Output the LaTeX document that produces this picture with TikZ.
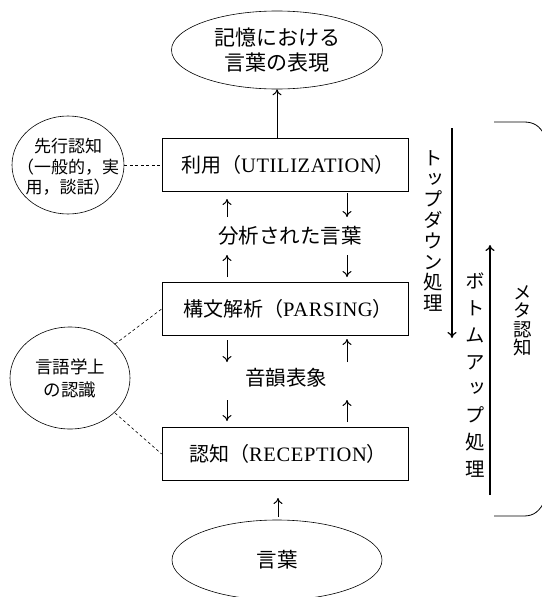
\documentclass[tikz,border=0pt]{standalone}
\usepackage{fontspec}
\setmainfont{Liberation Serif}[LetterSpace=3]
\newfontfamily\jp{Noto Sans CJK JP}
\newfontfamily\jpv[RawFeature=+vert]{Noto Sans CJK JP}
\usetikzlibrary{shapes.geometric,arrows.meta}
\newcommand\jpb[1]{{\jp\fontsize{20}{22}\selectfont #1}}
\begin{document}
\begin{tikzpicture}[x=1pt,y=-1pt,
  box/.style={draw,line width=0.7pt,minimum width=246pt,minimum height=53pt,inner sep=0pt},
  btext/.style={inner sep=0pt,font=\fontsize{20.5}{22}\selectfont},
  oval/.style={draw,ellipse,line width=0.6pt,inner sep=0pt},
  arr/.style={-{To[length=6pt,width=9pt]},line width=1pt},
  dsh/.style={dash pattern=on 3pt off 2.5pt,line width=0.6pt},
  lbl/.style={inner sep=0pt,font=\jp\fontsize{20.5}{22}\selectfont},
  ctext/.style={inner sep=0pt,align=center},
  vtext/.style={inner sep=0pt,align=center}
]
\useasboundingbox (0,0) rectangle (541,597);

% ellipses
\node[oval,minimum width=211pt,minimum height=78pt] (mem) at (277,50) {};
\node[ctext,font=\jp\fontsize{21}{25}\selectfont] (memt) at (mem) {記憶における\\言葉の表現};
\node[oval,minimum width=210pt,minimum height=80pt] (word) at (277,560) {};
\node[lbl] (wordt) at (word) {言葉};

% boxes
\node[box] (util) at (285,165) {};
\node[btext] (utilt) at (288,165) {\jpb{利用（}UTILIZATION\jpb{）}};
\node[box] (parse) at (285,309) {};
\node[btext] (parset) at (288,309) {\jpb{構文解析（}PARSING\jpb{）}};
\node[box] (rec) at (285,454) {};
\node[btext] (rect) at (288,454) {\jpb{認知（}RECEPTION\jpb{）}};

% middle labels
\node[lbl] (ana) at (290,236) {分析された言葉};
\node[lbl] (pho) at (286,378) {音韻表象};

% side circles
\node[oval,minimum width=112pt,minimum height=98pt] (c1) at (68,165) {};
\node[ctext,font=\jp\fontsize{17}{20.5}\selectfont] (c1t) at (68,167) {先行認知\\（一般的，実\\用，談話）};
\node[oval,minimum width=120pt,minimum height=102pt] (c2) at (70,378) {};
\node[ctext,font=\jp\fontsize{17.5}{23}\selectfont] (c2t) at (c2) {言語学上\\の認識};

% vertical labels
\node[vtext,font=\jpv\fontsize{19.5}{20.7}\selectfont] (tdt) at (433,231) {ト\\ッ\\プ\\ダ\\ウ\\ン\\処\\理};
\node[vtext,font=\jpv\fontsize{19.5}{26.8}\selectfont] (but) at (475,375) {ボ\\ト\\ム\\ア\\ッ\\プ\\処\\理};
\node[vtext,font=\jpv\fontsize{18.5}{18.5}\selectfont] (meta) at (523,321) {メ\\タ\\認\\知};

% main vertical arrows
\draw[arr] (util.north -| mem.south) -- (mem.south);
\coordinate (wtop) at (278,517);
\coordinate (rtip) at (278,498);
\draw[arr] (wtop) -- (rtip);

% small arrows
\draw[arr] (227,217) -- (227,199);
\draw[arr] (347,193) -- (347,217);
\draw[arr] (227,277) -- (227,255);
\draw[arr] (347,255) -- (347,277);
\draw[arr] (227,340) -- (227,362);
\draw[arr] (347,362) -- (347,339);
\draw[arr] (227,400) -- (227,421);
\draw[arr] (347,422) -- (347,400);

% dashed links
\draw[dsh] (c1.east) -- (util.west);
\draw[dsh] (c2) ++(45,-34) -- (parse.west);
\draw[dsh] (c2) ++(45,35) -- (rec.west);

% top-down / bottom-up
\coordinate (tda) at (452,128);
\coordinate (tdb) at (452,338);
\draw[arr,line width=1.2pt] (tda) -- (tdb);
\coordinate (bua) at (490,495);
\coordinate (bub) at (490,245);
\draw[arr,line width=1.2pt] (bua) -- (bub);

% bracket
\draw[line width=0.8pt] (494,122) -- (524,122) .. controls (534,122) and (540,126) .. (545,136) -- (545,500) .. controls (540,511) and (534,516) .. (524,516) -- (494,516);
\end{tikzpicture}
\end{document}
